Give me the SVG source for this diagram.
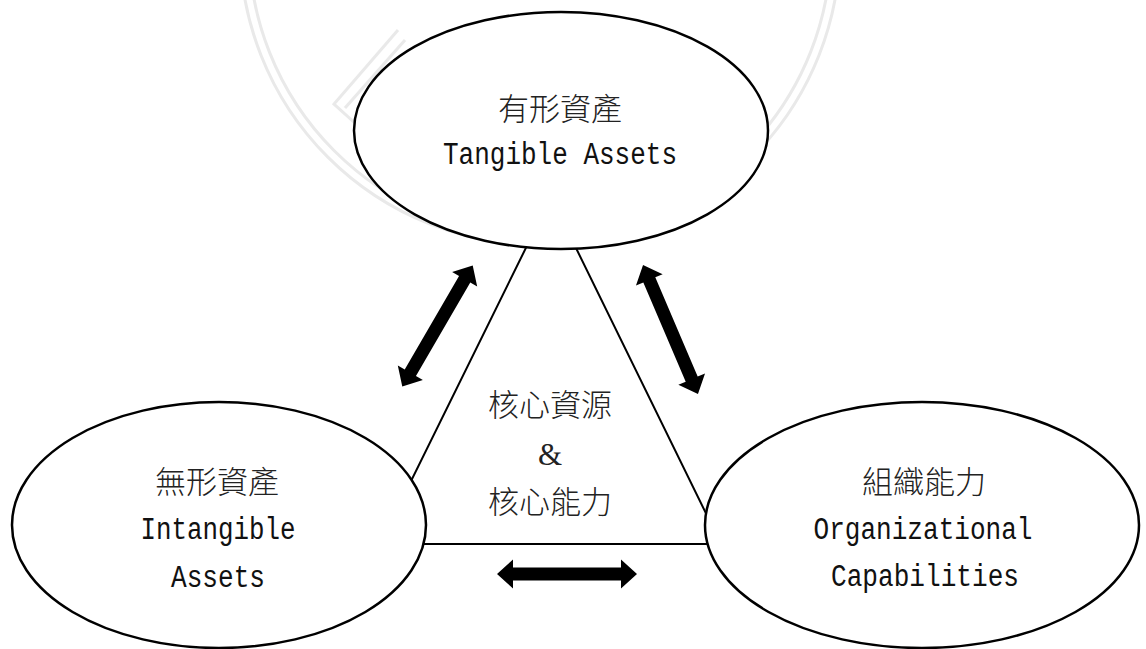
<svg xmlns="http://www.w3.org/2000/svg" xmlns:xlink="http://www.w3.org/1999/xlink" width="1146" height="649" viewBox="0 0 1146 649">
  <style>
    .node { fill: #ffffff; stroke: #000000; stroke-width: 2.5; }
    .edge { fill: none; stroke: #000000; stroke-width: 2; }
    .cjk { font-family: "Noto Sans CJK TC", "Noto Sans CJK SC", sans-serif; font-size: 31px; font-weight: 300; fill: #222222; text-anchor: middle; }
    .lat { font-family: "Liberation Mono", monospace; font-size: 31px; fill: #111111; text-anchor: middle; }
    .amp { font-family: "Liberation Serif", serif; font-size: 31px; fill: #222222; text-anchor: middle; }
    .wm { fill: none; stroke: #e9e9e9; stroke-width: 3; }
    .arrow { fill: #000000; stroke: none; }
  </style>
  <defs>
    <path id="dbl" d="M -70 0 L -54 -14.5 L -54 -6.5 L 54 -6.5 L 54 -14.5 L 70 0 L 54 14.5 L 54 6.5 L -54 6.5 L -54 14.5 Z"/>
  </defs>
  <rect x="0" y="0" width="1146" height="649" fill="#ffffff"/>

  <!-- faint watermark -->
  <g id="watermark">
    <circle class="wm" cx="540" cy="-55" r="300"/>
    <circle class="wm" cx="540" cy="-55" r="291"/>
    <path class="wm" d="M 398 30 L 334 104 L 356 124"/>
    <path class="wm" d="M 405 40 L 345 108"/>
  </g>

  <!-- connectors -->
  <g id="connectors">
    <path class="edge" d="M 551 197 L 380 544 L 721 544 Z"/>
    <use xlink:href="#dbl" class="arrow" transform="translate(437.5,326) rotate(-59.8)"/>
    <use xlink:href="#dbl" class="arrow" transform="translate(670.5,329.5) rotate(66.9)"/>
    <use xlink:href="#dbl" class="arrow" transform="translate(567,574)"/>
  </g>

  <g id="node-tangible">
    <ellipse class="node" cx="561" cy="130.5" rx="207" ry="118.5"/>
    <text class="cjk" x="560" y="120">有形資產</text>
    <text class="lat" x="560" y="164" textLength="234" lengthAdjust="spacingAndGlyphs">Tangible Assets</text>
  </g>

  <g id="node-intangible">
    <ellipse class="node" cx="219" cy="525" rx="207" ry="123"/>
    <text class="cjk" x="217" y="493">無形資產</text>
    <text class="lat" x="218" y="539" textLength="155" lengthAdjust="spacingAndGlyphs">Intangible</text>
    <text class="lat" x="218" y="587" textLength="94" lengthAdjust="spacingAndGlyphs">Assets</text>
  </g>

  <g id="node-organizational">
    <ellipse class="node" cx="922" cy="525" rx="217" ry="123"/>
    <text class="cjk" x="924" y="493">組織能力</text>
    <text class="lat" x="923" y="539" textLength="219" lengthAdjust="spacingAndGlyphs">Organizational</text>
    <text class="lat" x="925" y="586" textLength="188" lengthAdjust="spacingAndGlyphs">Capabilities</text>
  </g>

  <g id="node-core">
    <text class="cjk" x="550" y="416">核心資源</text>
    <text class="amp" x="550" y="465">&amp;</text>
    <text class="cjk" x="550" y="513">核心能力</text>
  </g>
</svg>
